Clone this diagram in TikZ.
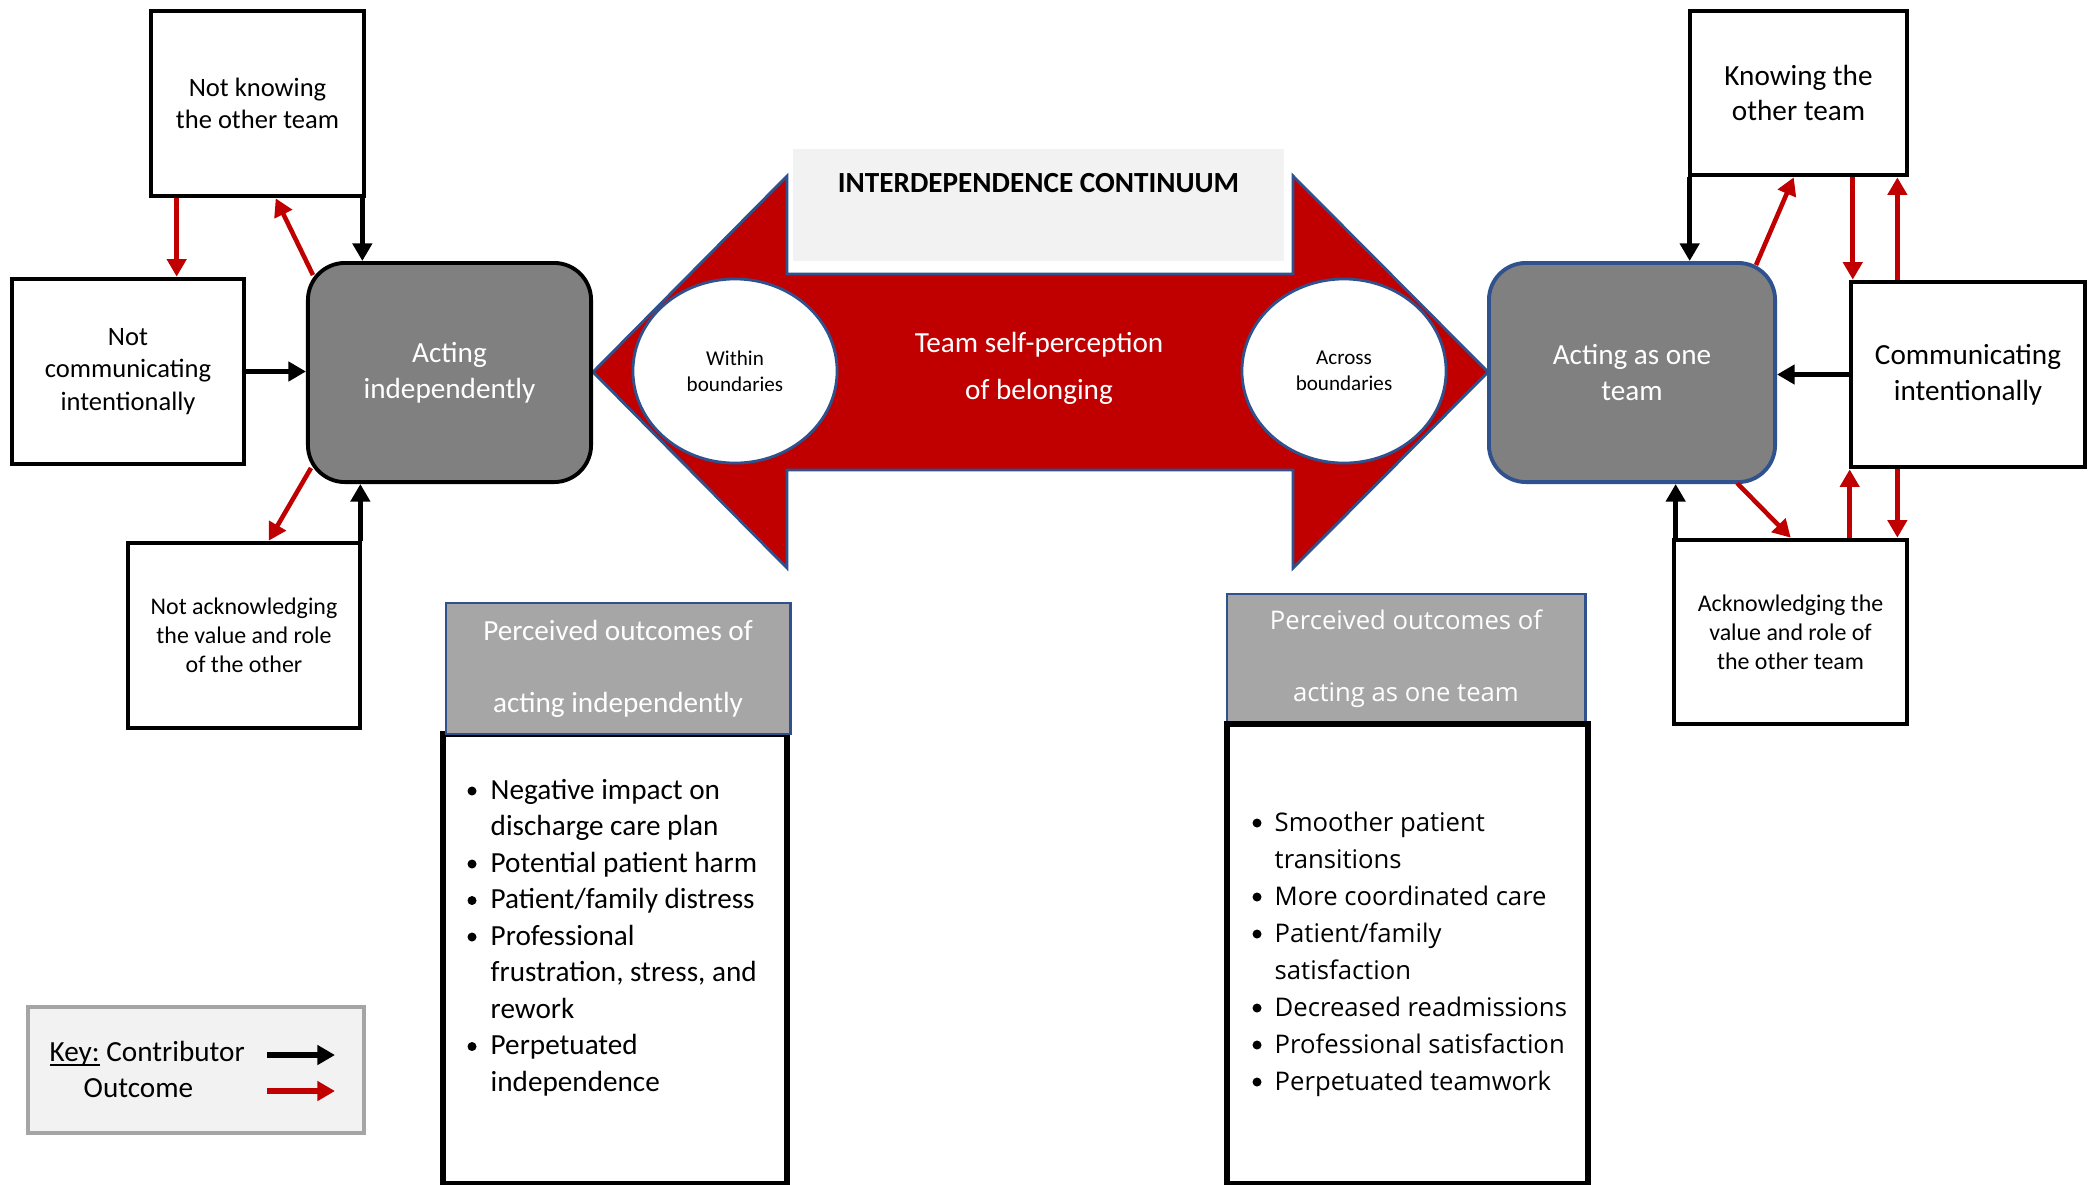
\documentclass[tikz,border=0pt]{standalone}
\usepackage{fontspec}
\setmainfont{Carlito}
\newfontfamily\segoe{Open Sans}
\usepackage{tikz}
\usetikzlibrary{arrows.meta}
\usetikzlibrary{shapes.geometric}
\definecolor{darkred}{HTML}{C00000}
\definecolor{ofblue}{HTML}{2F528F}
\definecolor{boxgray}{HTML}{808080}
\definecolor{headgray}{HTML}{A6A6A6}
\definecolor{paleg}{HTML}{F2F2F2}
\definecolor{keyline}{HTML}{A5A5A5}
\newcommand{\fbig}{\fontsize{8.3}{10.2}\selectfont}
\newcommand{\fmid}{\fontsize{7.55}{9.3}\selectfont}
\newcommand{\fsmall}{\fontsize{6.8}{8.3}\selectfont}
\newcommand{\ftiny}{\fontsize{6}{7.3}\selectfont}
\newcommand{\fseg}{\segoe\fontsize{7.3}{10.5}\selectfont}
\newcommand{\keyul}[1]{\setbox0\hbox{#1}\rlap{\rule[-1.3pt]{\wd0}{0.5pt}}\box0\relax}
\tikzset{
  factor/.style={draw=black, line width=1.3pt, fill=white, align=center, inner sep=1pt},
  actbox/.style={rounded corners=0.37cm, fill=boxgray, text=white, align=center, line width=1.1pt, font=\fbig},
  bound/.style={ellipse, draw=ofblue, fill=white, line width=0.8pt, minimum width=2.04cm, minimum height=1.84cm, inner sep=0pt, align=center, font=\ftiny},
  header/.style={draw=ofblue, fill=headgray, line width=0.8pt, text=white, align=center},
  listbody/.style={draw=black, line width=1.5pt},
  contrib/.style={black, line width=1.3pt, ->},
  outc/.style={darkred, line width=1.3pt, ->}
}

\begin{document}
\begin{tikzpicture}[x=0.01cm, y=-0.01cm, >={Triangle[length=5pt, width=5.4pt]}]
\useasboundingbox (0,0) rectangle (2092,1184);

% continuum arrow
\draw[ofblue, fill=darkred, line width=0.8pt] (593,372) -- (787,176) -- (787,274) -- (1293,274) -- (1293,176)
  -- (1488,372) -- (1293,568) -- (1293,470) -- (787,470) -- (787,568) -- cycle;
\node[fill=paleg, minimum width=4.91cm, minimum height=1.12cm] (band) at (1038.5,205) {};
\node[font=\fbig\bfseries] (title) at (1038.5,183) {INTERDEPENDENCE CONTINUUM};
\node[bound] (within) at (735,371) {Within\\boundaries};
\node[bound] (across) at (1344,371) {Across\\boundaries};
\node[font=\fbig, text=white, align=center] (belong) at (1039,368) {Team self-perception\\[3.2pt]of belonging};

% acting boxes
\node[actbox, draw=black, minimum width=2.83cm, minimum height=2.19cm] (AI) at (449.5,372.5) {Acting\\independently};
\node[actbox, draw=ofblue, minimum width=2.86cm, minimum height=2.19cm] (AO) at (1632,372.5) {Acting as one\\team};

% factors
\node[factor, font=\fmid, minimum width=2.13cm, minimum height=1.85cm] (NK) at (257.5,103.5) {Not knowing\\the other team};
\node[factor, font=\fmid, minimum width=2.32cm, minimum height=1.85cm] (NC) at (128,371.5) {Not\\communicating\\intentionally};
\node[factor, font=\fsmall, minimum width=2.32cm, minimum height=1.85cm] (NA) at (244,635.5) {Not acknowledging\\the value and role\\of the other};
\node[factor, font=\fbig, minimum width=2.17cm, minimum height=1.64cm] (KO) at (1798.5,93) {Knowing the\\other team};
\node[factor, font=\fbig, minimum width=2.34cm, minimum height=1.85cm] (CI) at (1968,374.5) {Communicating\\intentionally};
\node[factor, font=\fsmall, minimum width=2.33cm, minimum height=1.84cm] (AK) at (1790.5,632) {Acknowledging the\\value and role of\\the other team};

% left arrows
\draw[outc] ([xshift=0.28cm]NK.south west) -- ([xshift=0.28cm]NK.south west |- NC.north);
\draw[outc] ([xshift=0.07cm,yshift=-0.14cm]AI.north west) -- ([xshift=1.27cm]NK.south west);
\draw[contrib] ([xshift=-0.04cm]NK.south east) -- ([xshift=-0.04cm]NK.south east |- AI.north);
\draw[contrib] (NC.east) -- (NC.east -| AI.west);
\draw[outc] ([xshift=0.05cm,yshift=0.16cm]AI.south west) -- ([xshift=1.43cm]NA.north west);
\draw[contrib] ([xshift=-0.02cm]NA.north east) -- ([xshift=-0.02cm]NA.north east |- AI.south);

% right arrows
\draw[contrib] ([xshift=0.02cm]KO.south west) -- ([xshift=0.02cm]KO.south west |- AO.north);
\draw[outc] ([xshift=-0.21cm,yshift=-0.04cm]AO.north east) -- ([xshift=1.06cm]KO.south west);
\draw[outc] ([xshift=1.65cm]KO.south west) -- ([xshift=1.65cm]KO.south west |- CI.north);
\draw[outc] ([xshift=-0.12cm]KO.south east |- CI.north) -- ([xshift=-0.12cm]KO.south east);
\draw[contrib] (CI.west) -- (CI.west -| AO.east);
\draw[outc] ([xshift=-0.40cm,yshift=0.01cm]AO.south east) -- ([xshift=1.19cm]AK.north west);
\draw[contrib] ([xshift=0.04cm]AK.north west) -- ([xshift=0.04cm]AK.north west |- AO.south);
\draw[outc] ([xshift=0.01cm]CI.south west |- AK.north) -- ([xshift=0.01cm]CI.south west);
\draw[outc] ([xshift=-0.12cm]AK.north east |- CI.south) -- ([xshift=-0.12cm]AK.north east);

% outcomes of acting independently
\node[listbody, minimum width=3.44cm, minimum height=4.49cm] (bind) at (615,958.5) {};
\node[header, font=\fbig, minimum width=3.44cm, minimum height=1.31cm] (hind) at (618,668.5) {Perceived outcomes of\\[10.2pt]acting independently};
\foreach \i/\t in {0/Negative impact on, 1/discharge care plan, 2/Potential patient harm, 3/{Patient/family distress},
  4/Professional, 5/{frustration, stress, and}, 6/rework, 7/Perpetuated, 8/independence}
  \node[font=\fbig, anchor=base west, inner sep=0pt] (li\i) at (490,{799+36.5*\i}) {\t};
\foreach \i in {0,2,3,4,7}
  \fill (472,{791+36.5*\i}) circle[radius=0.045cm];

% outcomes of acting as one team
\node[header, font=\fseg, minimum width=3.58cm, minimum height=1.30cm] (hone) at (1406,659) {Perceived outcomes of\\[9.9pt]acting as one team};
\node[listbody, minimum width=3.61cm, minimum height=4.59cm] (bone) at (1407.5,953.5) {};
\foreach \i/\t in {0/Smoother patient, 1/transitions, 2/More coordinated care, 3/{Patient/family},
  4/satisfaction, 5/Decreased readmissions, 6/Professional satisfaction, 7/Perpetuated teamwork}
  \node[font=\fseg, anchor=base west, inner sep=0pt] (ri\i) at (1274,{831+37*\i}) {\t};
\foreach \i in {0,2,3,5,6,7}
  \fill (1257,{823+37*\i}) circle[radius=0.045cm];

% key
\node[fill=paleg, draw=keyline, line width=1pt, minimum width=3.36cm, minimum height=1.26cm] (key) at (196,1070) {};
\node[font=\fbig, anchor=base west, inner sep=0pt] (keyc) at (49,1061) {\keyul{Key:} Contributor};
\node[font=\fbig, anchor=base west, inner sep=0pt] (keyo) at (83,1097) {Outcome};
\coordinate (kc1) at (267,1055);
\coordinate (kc2) at (335,1055);
\coordinate (ko1) at (267,1091);
\coordinate (ko2) at (335,1091);
\draw[contrib, line width=1.6pt] (kc1) -- (kc2);
\draw[outc, line width=1.6pt] (ko1) -- (ko2);
\end{tikzpicture}
\end{document}
